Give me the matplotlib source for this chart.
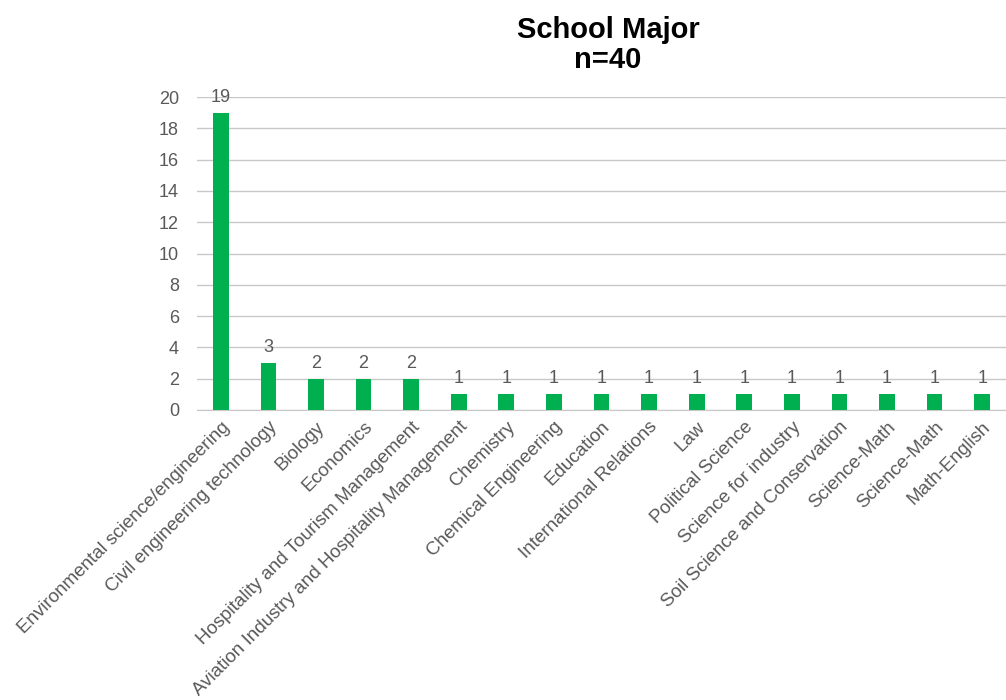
import matplotlib.pyplot as plt

plt.rcParams["font.family"] = ["Liberation Sans", "DejaVu Sans"]

majors = ["Environmental science/engineering", "Civil engineering technology", "Biology",
          "Economics", "Hospitality and Tourism Management",
          "Aviation Industry and Hospitality Management", "Chemistry", "Chemical Engineering",
          "Education", "International Relations", "Law", "Political Science",
          "Science for industry", "Soil Science and Conservation", "Science-Math",
          "Science-Math", "Math-English"]
counts = [19, 3, 2, 2, 2, 1, 1, 1, 1, 1, 1, 1, 1, 1, 1, 1, 1]

gray = "#595959"

fig = plt.figure(figsize=(10.06, 7), dpi=100)
ax = fig.add_axes([197 / 1006, 1 - 410 / 700, 809 / 1006, 313 / 700])

x = range(len(majors))
bars = ax.bar(x, counts, width=0.33, color="#00B050", zorder=3)
ax.bar_label(bars, padding=5, color=gray, fontsize=13)

ax.set_ylim(0, 20)
ax.set_xlim(-0.5, len(majors) - 0.5)
ax.set_yticks(range(0, 21, 2))
ax.grid(axis="y", color="#C8C8C8", linewidth=1, zorder=0)
ax.set_axisbelow(True)
for s in ["top", "right", "left"]:
    ax.spines[s].set_visible(False)
ax.spines["bottom"].set_color("#C8C8C8")
ax.tick_params(length=0, colors=gray, labelsize=13)
ax.tick_params(axis="y", pad=13)
ax.tick_params(axis="x", pad=6, labelsize=13.5)
ax.set_xticks(list(x))
ax.set_xticklabels(majors, rotation=45, ha="right", va="top", rotation_mode="anchor")

fig.text(608 / 1006, 1 - 45 / 700, "School Major\nn=40", ha="center", va="center",
         fontsize=21, fontweight="bold", color="black", linespacing=1.1)

fig.savefig("out.png", dpi=100)
